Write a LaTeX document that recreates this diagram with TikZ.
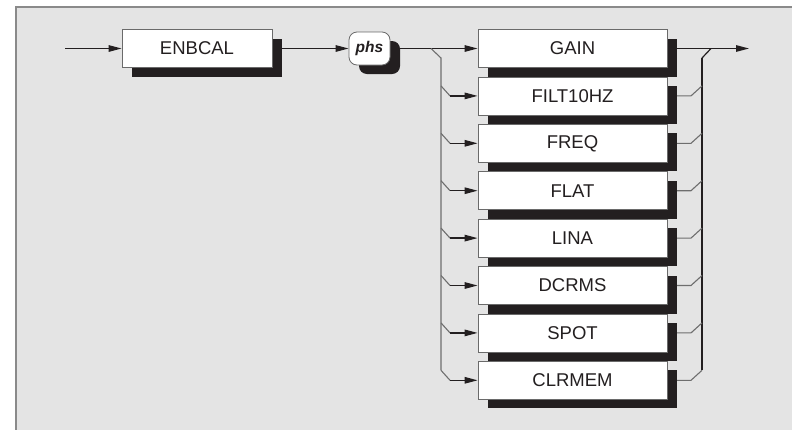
\documentclass[tikz,border=0pt]{standalone}
\usepackage{fontspec}
\setmainfont{Liberation Sans}
\usetikzlibrary{arrows.meta,shadows,backgrounds}
\definecolor{panelc}{HTML}{E4E4E4}
\definecolor{borderc}{HTML}{8A8A8A}
\definecolor{shadowc}{HTML}{231F20}
\definecolor{boxline}{HTML}{6A6A6A}
\definecolor{txtc}{HTML}{231F20}
\definecolor{darkline}{HTML}{231F20}
\definecolor{grayline}{HTML}{6E6E6E}
\newcommand\optfont{\fontsize{18.5}{21}\selectfont}
\newcommand\phsfont{\fontsize{15.5}{18}\selectfont\bfseries\itshape}
\tikzset{
  boxshadow/.style={drop shadow={shadow xshift=10pt,shadow yshift=-9pt,fill=shadowc,opacity=1}},
  optbox/.style={draw=boxline,line width=0.8pt,fill=white,minimum width=189pt,minimum height=38pt,inner sep=0pt,font=\optfont,text=txtc,boxshadow},
  cmdbox/.style={optbox,minimum width=150pt},
  phsbox/.style={draw=boxline,line width=0.8pt,fill=white,rounded corners=8pt,minimum width=41pt,minimum height=33pt,inner sep=0pt,font=\phsfont,text=txtc,boxshadow},
  arr/.style={draw=darkline,line width=1.3pt,-{Triangle[length=13pt,width=6.5pt]}},
  dline/.style={draw=darkline,line width=1.2pt},
  gline/.style={draw=grayline,line width=1.1pt},
}
\begin{document}
\begin{tikzpicture}[x=1pt,y=-1pt]
\useasboundingbox (0,0) rectangle (792,429);
\node[cmdbox] (enb) at (197,48.5) {ENBCAL};
\node[phsbox] (phs) at (369.5,48.5) {phs};
\foreach \t [count=\i from 0] in {GAIN,FILT10HZ,FREQ,FLAT,LINA,DCRMS,SPOT,CLRMEM}{
  \node[optbox] (o\i) at (572.5,{48.5+47.4*\i}) {\t};
}
\coordinate (start) at (65,48.5);
\coordinate (exit) at (749,48.5);
\coordinate (lsplit) at (431,48.5);
\coordinate (ltop) at (441,58);
\coordinate (lbot) at (441,370.3);
\coordinate (rjoin) at (711,48.5);
\coordinate (rtop) at (702,58);
\coordinate (rbot) at (702,370.3);
\begin{pgfonlayer}{background}
  \fill[panelc] (16,7) rectangle (800,440);
  \draw[borderc,line width=2pt] (800,7) -- (16,7) -- (16,440);
  \draw[arr] (start) -- (enb.west);
  \draw[arr] (enb.east) -- (phs.west);
  \draw[arr] (phs.east) -- (o0.west);
  \draw[arr] (o0.east) -- (exit);
  \draw[gline] (lsplit) -- (ltop) -- (lbot);
  \draw[dline] (rjoin) -- (rtop);
  \draw[dline] (rtop) -- (rbot);
  \foreach \i in {1,...,7}{
    \coordinate (la\i) at (441,{38.5+47.4*\i});
    \coordinate (lb\i) at (450,{48.5+47.4*\i});
    \coordinate (ra\i) at (691,{48.5+47.4*\i});
    \coordinate (rb\i) at (702,{38.5+47.4*\i});
    \draw[gline] (la\i) -- (lb\i);
    \draw[arr] (lb\i) -- (o\i.west);
    \draw[gline] (o\i.east) -- (ra\i) -- (rb\i);
  }
\end{pgfonlayer}
\end{tikzpicture}
\end{document}
